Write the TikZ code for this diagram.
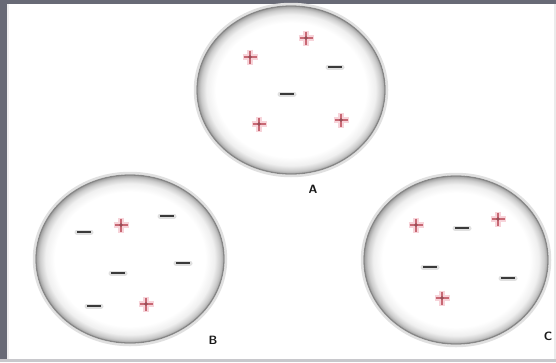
\documentclass[tikz,border=0pt]{standalone}
\usetikzlibrary{shapes.geometric}
\definecolor{framedark}{RGB}{104,106,118}
\definecolor{framelight}{RGB}{200,200,204}
\definecolor{plusred}{RGB}{200,104,116}
\definecolor{plushalo}{RGB}{247,212,218}
\definecolor{minusdark}{RGB}{58,58,58}
\definecolor{rimgray}{RGB}{135,135,135}
\pgfdeclareradialshading{ballrim}{\pgfpoint{0bp}{0bp}}{%
  color(0bp)=(white); color(20bp)=(white); color(22.5bp)=(black!6);
  color(24bp)=(black!20); color(25bp)=(black!38); color(50bp)=(black!38)}
\tikzset{
  ball/.style={ellipse, inner sep=0pt, minimum width=188pt, minimum height=168pt,
    shading=ballrim, draw=rimgray, line width=1.3pt},
  halo/.style={ellipse, inner sep=0pt, minimum width=192pt, minimum height=172pt,
    draw=black!12, line width=2.5pt},
  lbl/.style={font=\sffamily\bfseries\fontsize{12}{12}\selectfont, text=black!90, inner sep=0pt},
  plussign/.pic={
    \draw[plushalo, line width=6pt] (-7.5,0) -- (7.5,0) (0,-7.5) -- (0,7.5);
    \draw[plusred, line width=2.2pt] (-6.5,0) -- (6.5,0) (0,-6.5) -- (0,6.5);
    \fill[plusred!75!black] (0,0) circle (1.8pt);
  },
  minussign/.pic={
    \draw[black!12, line width=5pt, line cap=round] (-7,0) -- (7,0);
    \draw[minusdark, line width=2.8pt] (-7,0) -- (7,0);
  }
}
\begin{document}
\begin{tikzpicture}[x=1pt, y=-1pt]
  % frame
  \fill[white] (0,0) rectangle (556,362);
  \useasboundingbox (0,0) rectangle (556,362);
  \fill[framedark] (0,0) rectangle (7,362);
  \fill[black!6] (7,4) rectangle (9,359);
  \fill[framedark] (0,0) rectangle (556,4);
  \fill[framelight] (0,359) rectangle (556,362);
  \fill[black!8] (554,4) rectangle (556,359);

  % spheres
  \node[halo] (Ah) at (291,90) {};
  \node[halo] (Bh) at (130,259) {};
  \node[halo, minimum width=188pt] (Ch) at (456,260) {};
  \node[ball] (A) at (291,90) {};
  \node[ball] (B) at (130,259) {};
  \node[ball, minimum width=184pt] (C) at (456,260) {};

  % labels
  \node[lbl] (la) at (313,189) {A};
  \node[lbl] (lb) at (213,340) {B};
  \node[lbl] (lc) at (548,336) {C};

  % charges A
  \pic at (250,57) {plussign};
  \pic at (306,38) {plussign};
  \pic at (335,67) {minussign};
  \pic at (287,94) {minussign};
  \pic at (259,124) {plussign};
  \pic at (341,120) {plussign};

  % charges B
  \pic at (84,232) {minussign};
  \pic at (121,225) {plussign};
  \pic at (167,216) {minussign};
  \pic at (183,263) {minussign};
  \pic at (118,273) {minussign};
  \pic at (94,306) {minussign};
  \pic at (146,304) {plussign};

  % charges C
  \pic at (416,225) {plussign};
  \pic at (462,228) {minussign};
  \pic at (498,219) {plussign};
  \pic at (430,267) {minussign};
  \pic at (508,278) {minussign};
  \pic at (442,298) {plussign};
\end{tikzpicture}
\end{document}
